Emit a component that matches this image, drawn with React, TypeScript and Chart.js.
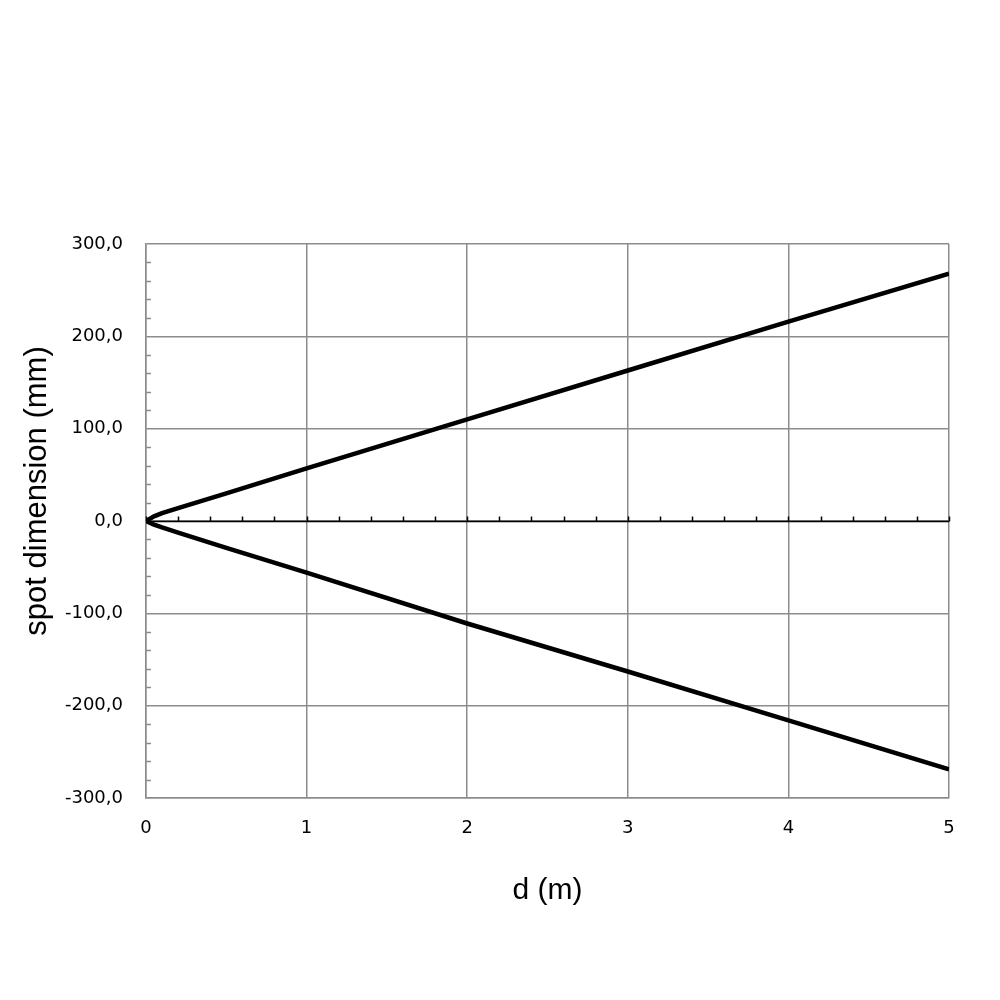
import React, { useEffect, useRef } from "react";
import { Chart, registerables } from "chart.js";

Chart.register(...registerables);

const distances = [0, 0.05, 0.1, 0.2, 0.5, 1, 2, 3, 4, 5];
const upperSpot = [0, 5, 8.5, 14, 30, 57, 110, 163, 216, 268];
const lowerSpot = [0, -4, -7, -12.5, -29, -56, -111, -163, -216, -269];
const xTicks = [0, 1, 2, 3, 4, 5];
const yTicks = [-300, -200, -100, 0, 100, 200, 300];
const xTitle = "d (m)";
const yTitle = "spot dimension (mm)";

const GRID = "#8c8c8c";

const minorPlugin = {
  id: "minorTicks",
  afterDatasetsDraw(chart: any) {
    const { ctx, chartArea, scales } = chart;
    const x = scales.x;
    const y = scales.y;
    ctx.save();
    ctx.strokeStyle = GRID;
    ctx.lineWidth = 1.5;
    for (let v = -300; v <= 300; v += 20) {
      if (v % 100 === 0) continue;
      const py = Math.round(y.getPixelForValue(v)) + 0.5;
      ctx.beginPath();
      ctx.moveTo(chartArea.left, py);
      ctx.lineTo(chartArea.left + 5, py);
      ctx.stroke();
    }
    const y0 = Math.round(y.getPixelForValue(0)) + 0.5;
    ctx.strokeStyle = "#000";
    ctx.lineWidth = 1.5;
    ctx.beginPath();
    ctx.moveTo(chartArea.left, y0);
    ctx.lineTo(chartArea.right, y0);
    ctx.stroke();
    for (let i = 0; i <= 25; i++) {
      const v = i * 0.2;
      const px = Math.round(x.getPixelForValue(v)) + 0.5;
      ctx.beginPath();
      ctx.moveTo(px, y0);
      ctx.lineTo(px, y0 - 5);
      ctx.stroke();
    }
    // y axis title
    ctx.fillStyle = "#000";
    ctx.font = "31px 'Liberation Sans'";
    ctx.textAlign = "center";
    ctx.textBaseline = "middle";
    ctx.translate(37, 491);
    ctx.rotate(-Math.PI / 2);
    ctx.fillText(yTitle, 0, 0);
    ctx.restore();
  },
};

export default function App() {
  const ref = useRef<HTMLCanvasElement>(null);
  useEffect(() => {
    if (!ref.current) return;
    const chart = new Chart(ref.current, {
      type: "line",
      data: {
        datasets: [
          {
            data: distances.map((d, i) => ({ x: d, y: upperSpot[i] })),
            borderColor: "#000",
            borderWidth: 4.5,
            pointRadius: 0,
            tension: 0,
          },
          {
            data: distances.map((d, i) => ({ x: d, y: lowerSpot[i] })),
            borderColor: "#000",
            borderWidth: 4.5,
            pointRadius: 0,
            tension: 0,
          },
        ],
      },
      options: {
        animation: false,
        responsive: false,
        maintainAspectRatio: false,
        layout: { padding: { top: 244, right: 51, left: 0, bottom: 0 } },
        plugins: { legend: { display: false }, tooltip: { enabled: false } },
        scales: {
          x: {
            type: "linear",
            min: 0,
            max: 5,
            afterBuildTicks: (s: any) => {
              s.ticks = xTicks.map((v) => ({ value: v }));
            },
            afterFit: (s: any) => {
              s.height = 202;
            },
            ticks: {
              color: "#000",
              font: { family: "DejaVu Sans", size: 18 },
              padding: 20,
              maxRotation: 0,
              callback: (v: any) => String(v),
            },
            grid: { color: GRID, lineWidth: 1.5, drawTicks: false },
            border: { color: GRID, width: 1.5 },
            title: {
              display: true,
              text: xTitle,
              color: "#000",
              font: { family: "Liberation Sans", size: 30 },
              padding: { top: 0, bottom: 91 },
            },
          },
          y: {
            type: "linear",
            min: -300,
            max: 300,
            afterBuildTicks: (s: any) => {
              s.ticks = yTicks.map((v) => ({ value: v }));
            },
            afterFit: (s: any) => {
              s.width = 146;
            },
            ticks: {
              color: "#000",
              font: { family: "DejaVu Sans", size: 18 },
              padding: 23,
              callback: (v: any) => Number(v).toFixed(1).replace(".", ","),
            },
            grid: { color: GRID, lineWidth: 1.5, drawTicks: false },
            border: { color: GRID, width: 1.5 },
            title: { display: false },
          },
        },
      },
      plugins: [minorPlugin],
    });
    return () => chart.destroy();
  }, []);
  return (
    <div style={{ position: "fixed", left: 0, top: 0, width: 1000, height: 1000, background: "#fff" }}>
      <canvas ref={ref} width={1000} height={1000} style={{ width: 1000, height: 1000 }} />
    </div>
  );
}
